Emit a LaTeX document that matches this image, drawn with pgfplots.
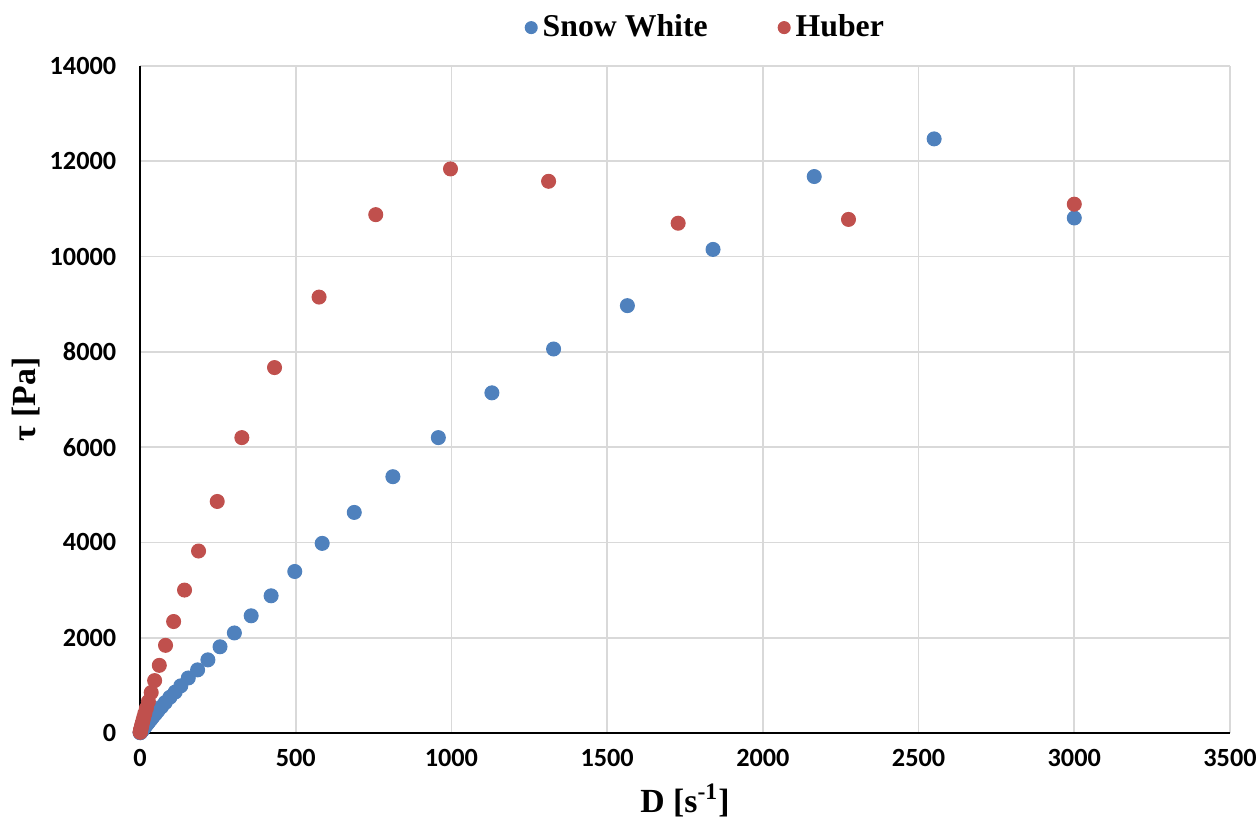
\documentclass[border=0pt]{standalone}
\usepackage{fontspec}
\setmainfont{Carlito}
\newfontfamily\tnr{Liberation Serif}
\usepackage{pgfplots}
\pgfplotsset{compat=1.18}
\definecolor{sw}{HTML}{4F81BD}
\definecolor{hb}{HTML}{C0504D}
\begin{document}
\begin{tikzpicture}
\useasboundingbox (-56pt,-36.8pt) rectangle (447.6pt,293.2pt);
\begin{axis}[
  scale only axis, width=436pt, height=266.8pt,
  xmin=0, xmax=3500, ymin=0, ymax=14000,
  xtick distance=500, ytick distance=2000,
  scaled y ticks=false, scaled x ticks=false,
  axis lines=left, axis line style={-, black, line width=0.9pt},
  grid=major, grid style={black!15, line width=0.7pt},
  major tick length=0pt,
  tick label style={font=\bfseries\fontsize{10.5}{12}\selectfont},
  /pgf/number format/assume math mode=true,
  /pgf/number format/1000 sep={},
  xticklabel style={yshift=-3pt},
  yticklabel style={xshift=-6pt},
  xlabel={\tnr\bfseries\fontsize{13.5}{15}\selectfont D [s\textsuperscript{-1}]},
  ylabel={\tnr\bfseries\fontsize{13.5}{15}\selectfont τ [Pa]},
  ylabel style={at={(rel axis cs:-0.105,0.5)}, anchor=center},
  legend columns=2,
  legend style={at={(rel axis cs:0.52,1)}, anchor=south, yshift=6pt, draw=none, fill=none,
    font=\tnr\bfseries\fontsize{12.7}{14}\selectfont,
    /tikz/every even column/.append style={column sep=26pt}},
  legend image code/.code={\fill[#1] (0.3em,0pt) circle (2.4pt);},
  clip=false,
]
\addplot[only marks, mark=*, mark size=2.8pt, color=sw, mark options={draw=sw, fill=sw}] coordinates {
(3000,10810) (2550,12470) (2165,11680) (1840,10150) (1565,8970) (1328,8060)
(1130,7140) (958,6200) (812,5380) (688,4630) (585,3980) (497,3390) (421,2880)
(357,2460) (303,2100) (257,1810) (218,1535) (185,1325) (155,1155) (131,990)
(113,860) (96,750) (81,640) (69,550) (58,470) (50,405) (42,345) (36,295)
(30,250) (26,215) (22,185) (18.5,155) (15.7,132) (13.3,113) (11.3,96)
(9.6,82) (8.2,70) (7,60) (5.9,51) (5,43) (4.2,36) (3.6,31) (3,26) (2.5,22)
(2,18) (1.5,14) (1,10) (0.5,5)
};
\addlegendentry{Snow White}
\addplot[only marks, mark=*, mark size=2.8pt, color=hb, mark options={draw=hb, fill=hb}] coordinates {
(3000,11100) (2275,10780) (1728,10700) (1312,11580) (997,11840) (757,10880)
(575,9150) (432,7670) (327,6200) (248,4860) (188,3820) (143,3000) (108,2340)
(82,1840) (62,1420) (47,1100) (36,850) (27,660) (20.5,520) (15.6,410)
(11.8,320) (9,250) (6.8,195) (5.2,150) (3.9,115) (3,88) (2.3,68) (1.7,52)
(1.3,40) (1,30) (0.75,23) (0.5,15)
};
\addlegendentry{Huber}
\end{axis}
\end{tikzpicture}
\end{document}
